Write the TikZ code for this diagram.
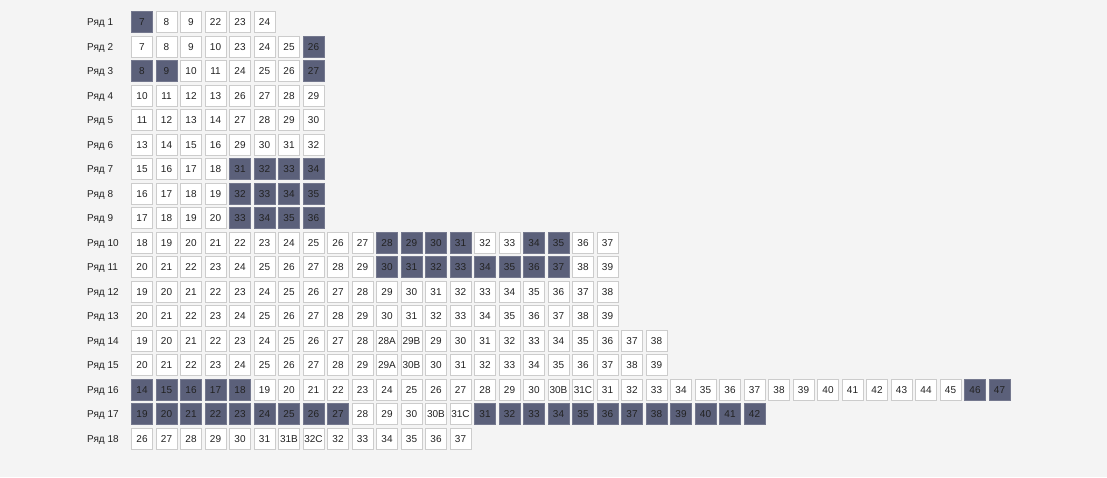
\documentclass[tikz,border=0pt]{standalone}
\usepackage{fontspec}
\setmainfont{Liberation Sans}
\definecolor{mapbg}{HTML}{F4F4F4}
\definecolor{seatline}{HTML}{CCCCCC}
\definecolor{seatdark}{HTML}{5B607A}
\definecolor{seattext}{HTML}{222222}
\newcommand\unbrace[1]{#1}
\tikzset{
  seatfree/.style={draw=seatline, line width=1pt, fill=white, minimum size=21pt, inner sep=0pt, text height=7.2pt, text depth=0pt, font=\fontsize{10}{12}\selectfont, text=seattext},
  seattaken/.style={seatfree, fill=seatdark, draw=seatdark!85!white},
  rowlabel/.style={anchor=base west, inner sep=0pt, font=\fontsize{10}{12}\selectfont, text=seattext}
}
\begin{document}
\begin{tikzpicture}[x=1pt, y=-1pt]
\fill[mapbg] (0,0) rectangle (1107,477);
\useasboundingbox (0,0) rectangle (1107,477);
% seat rows: label / seats / taken seat positions
\begin{scope}
\clip (0,0) rectangle (1107,449);
\foreach \r/\seats/\taken in {
  1/{7,8,9,22,23,24}/{0},
  2/{7,8,9,10,23,24,25,26}/{7},
  3/{8,9,10,11,24,25,26,27}/{0,1,7},
  4/{10,11,12,13,26,27,28,29}/{-1},
  5/{11,12,13,14,27,28,29,30}/{-1},
  6/{13,14,15,16,29,30,31,32}/{-1},
  7/{15,16,17,18,31,32,33,34}/{4,...,7},
  8/{16,17,18,19,32,33,34,35}/{4,...,7},
  9/{17,18,19,20,33,34,35,36}/{4,...,7},
  10/{18,19,20,21,22,23,24,25,26,27,28,29,30,31,32,33,34,35,36,37}/{10,11,12,13,16,17},
  11/{20,21,22,23,24,25,26,27,28,29,30,31,32,33,34,35,36,37,38,39}/{10,...,17},
  12/{19,20,21,22,23,24,25,26,27,28,29,30,31,32,33,34,35,36,37,38}/{-1},
  13/{20,21,22,23,24,25,26,27,28,29,30,31,32,33,34,35,36,37,38,39}/{-1},
  14/{19,20,21,22,23,24,25,26,27,28,28A,29B,29,30,31,32,33,34,35,36,37,38}/{-1},
  15/{20,21,22,23,24,25,26,27,28,29,29A,30B,30,31,32,33,34,35,36,37,38,39}/{-1},
  16/{14,15,16,17,18,19,20,21,22,23,24,25,26,27,28,29,30,30B,31C,31,32,33,34,35,36,37,38,39,40,41,42,43,44,45,46,47}/{0,1,2,3,4,34,35},
  17/{19,20,21,22,23,24,25,26,27,28,29,30,30B,31C,31,32,33,34,35,36,37,38,39,40,41,42}/{0,1,2,3,4,5,6,7,8,14,15,16,17,18,19,20,21,22,23,24,25},
  18/{26,27,28,29,30,31,31B,32C,32,33,34,35,36,37}/{-1}
}{
  \edef\seatlist{\expandafter\unbrace\seats}
  \edef\takenlist{\expandafter\unbrace\taken}
  \pgfmathsetmacro\y{22+24.5*(\r-1)}
  \node[rowlabel] (row-\r) at (87,\y+3.6) {Ряд \r};
  \foreach \s [count=\i from 0] in \seatlist {
    \gdef\seatkind{seatfree}
    \foreach \j in \takenlist {\ifnum\j=\i\relax\gdef\seatkind{seattaken}\fi}
    \node[\seatkind] (s-\r-\i) at (142+24.5*\i,\y) {\s};
  }
}
\end{scope}
\end{tikzpicture}
\end{document}
